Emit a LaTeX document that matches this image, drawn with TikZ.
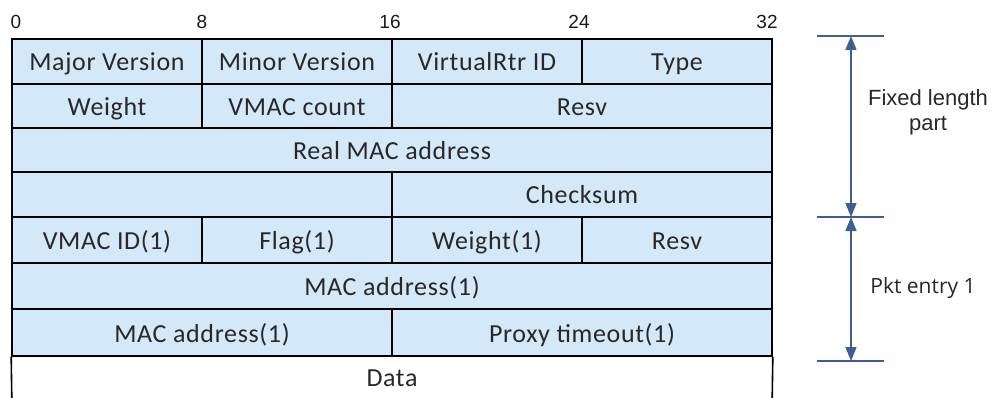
\documentclass[tikz,border=0pt]{standalone}
\usepackage{fontspec}
\setmainfont{Carlito}[LetterSpace=2.5]
\newfontfamily\arialfont{Liberation Sans}
\newfontfamily\segoefont{Open Sans}
\usetikzlibrary{arrows.meta}
\definecolor{fieldblue}{RGB}{211,232,248}
\definecolor{arrowblue}{RGB}{62,96,145}
\definecolor{txt}{RGB}{40,40,40}
\tikzset{
  fieldtext/.style={font=\fontsize{26}{30}\selectfont, text=txt, text height=19pt, text depth=0pt},
  field/.style={draw=black, line width=1.6pt, fill=fieldblue, inner sep=0pt, fieldtext},
  bitnum/.style={inner sep=0pt, font=\arialfont\fontsize{19}{22}\selectfont, text=black!90},
  sidelabel/.style={inner sep=0pt, align=center, font=\arialfont\fontsize{22}{25}\selectfont, text=txt},
  bar/.style={draw=arrowblue, line width=1.6pt},
  dim/.style={draw=arrowblue, line width=1.6pt, {Triangle[length=14pt,width=11pt]}-{Triangle[length=14pt,width=11pt]}},
}
\begin{document}
\begin{tikzpicture}[x=1pt,y=-1pt]
\useasboundingbox (0,0) rectangle (992,398);
% bit numbers
\node[bitnum] (n0) at (16,22) {0};
\node[bitnum] (n8) at (202,22) {8};
\node[bitnum] (n16) at (390,22) {16};
\node[bitnum] (n24) at (579,22) {24};
\node[bitnum] (n32) at (767,22) {32};
% row 1: 39-84
\node[field, minimum width=190pt, minimum height=45pt] (major) at (107,61.5) {Major Version};
\node[field, minimum width=190pt, minimum height=45pt] (minor) at (297,61.5) {Minor Version};
\node[field, minimum width=190pt, minimum height=45pt] (vrid) at (487,61.5) {VirtualRtr ID};
\node[field, minimum width=190pt, minimum height=45pt] (type) at (677,61.5) {Type};
% row 2: 84-128
\node[field, minimum width=190pt, minimum height=44pt] (weight) at (107,106) {Weight};
\node[field, minimum width=190pt, minimum height=44pt] (vmacc) at (297,106) {VMAC count};
\node[field, minimum width=380pt, minimum height=44pt] (resv1) at (582,106) {Resv};
% row 3: 128-172
\node[field, minimum width=760pt, minimum height=44pt] (realmac) at (392,150) {Real MAC address};
% row 4: 172-217
\node[field, minimum width=380pt, minimum height=45pt] (blank) at (202,194.5) {};
\node[field, minimum width=380pt, minimum height=45pt] (checksum) at (582,194.5) {Checksum};
% row 5: 217-263
\node[field, minimum width=190pt, minimum height=46pt] (vmacid) at (107,240) {VMAC ID(1)};
\node[field, minimum width=190pt, minimum height=46pt] (flag) at (297,240) {Flag(1)};
\node[field, minimum width=190pt, minimum height=46pt] (weight1) at (487,240) {Weight(1)};
\node[field, minimum width=190pt, minimum height=46pt] (resv2) at (677,240) {Resv};
% row 6: 263-309
\node[field, minimum width=760pt, minimum height=46pt] (mac1) at (392,286) {MAC address(1)};
% row 7: 309-356
\node[field, minimum width=380pt, minimum height=47pt] (mac2) at (202,332.5) {MAC address(1)};
\node[field, minimum width=380pt, minimum height=47pt] (proxy) at (582,332.5) {Proxy timeout(1)};
% data row (open bottom)
\node[inner sep=0pt, minimum width=760pt, minimum height=42pt, fieldtext] (data) at (392,377) {Data};
\draw[line width=1.6pt] (mac2.south west) -- (data.south west);
\draw[line width=1.6pt] (proxy.south east) -- (data.south east);
% dimension bracket
\coordinate (t1) at (817,36); \coordinate (t2) at (884,36);
\coordinate (m1) at (817,217); \coordinate (m2) at (884,217);
\coordinate (b1) at (817,361); \coordinate (b2) at (884,361);
\coordinate (at) at (851,36); \coordinate (am) at (851,217); \coordinate (ab) at (851,361);
\draw[bar] (t1) -- (t2);
\draw[bar] (m1) -- (m2);
\draw[bar] (b1) -- (b2);
\draw[dim] (at) -- (am);
\draw[dim] (am) -- (ab);
\node[sidelabel] (fixed) at (928,112) {Fixed length\\part};
\node[sidelabel, font=\segoefont\fontsize{21}{25}\selectfont] (pkt) at (923,288) {Pkt entry 1};
\end{tikzpicture}
\end{document}
